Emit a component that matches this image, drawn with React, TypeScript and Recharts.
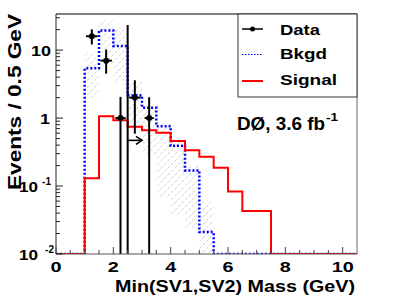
import React from "react";
import {
    ComposedChart,
    Line,
    Area,
    Scatter,
    ErrorBar,
    XAxis,
    YAxis,
    ReferenceLine,
} from "recharts";

// bin edges, 0.5 GeV wide
const binEdges = [0, 0.5, 1, 1.5, 2, 2.5, 3, 3.5, 4, 4.5, 5, 5.5, 6, 6.5, 7, 7.5, 8, 8.5, 9, 9.5, 10, 10.5];
const signalVals = [0.01, 0.01, 0.13, 1.06, 0.93, 0.745, 0.66, 0.61, 0.46, 0.335, 0.27, 0.186, 0.083, 0.043, 0.043, 0.01, 0.01, 0.01, 0.01, 0.01, 0.01];
const bkgdVals = [0.01, 0.01, 5.4, 19.5, 11.5, 2.16, 1.42, 0.76, 0.39, 0.17, 0.021, 0.01, 0.01, 0.01, 0.01, 0.01, 0.01, 0.01, 0.01, 0.01, 0.01];
const bandLow = [0.01, 0.01, 2.0, 6.0, 3.4, 0.79, 0.29, 0.067, 0.037, 0.024, 0.01, 0.01, 0.01, 0.01, 0.01, 0.01, 0.01, 0.01, 0.01, 0.01, 0.01];
const bandHigh = [0.01, 0.01, 9.4, 27.6, 20.8, 3.4, 1.55, 0.88, 0.45, 0.2, 0.059, 0.01, 0.01, 0.01, 0.01, 0.01, 0.01, 0.01, 0.01, 0.01, 0.01];

// data points
const dataX = [1.25, 1.75, 2.25, 2.75, 3.25];
const dataY = [16, 7, 1, 2, 1];
const dataLo = [12.1, 4.5, 0.01, 0.59, 0.01];
const dataHi = [20.2, 10.2, 2.05, 3.6, 2.03];
const dataXErr = [0.2, 0.2, 0.18, 0.2, 0.16];

// the tall line and the arrow near 2.5 GeV
const spikeX = 2.5;
const spikeTop = 23.4;
const arrowFrom = 2.5;
const arrowTo = 3.0;
const arrowY = 0.47;

const xTicks = [0, 0.5, 1, 1.5, 2, 2.5, 3, 3.5, 4, 4.5, 5, 5.5, 6, 6.5, 7, 7.5, 8, 8.5, 9, 9.5, 10];
const yTicks = [
    0.01, 0.02, 0.03, 0.04, 0.05, 0.06, 0.07, 0.08, 0.09,
    0.1, 0.2, 0.3, 0.4, 0.5, 0.6, 0.7, 0.8, 0.9,
    1, 2, 3, 4, 5, 6, 7, 8, 9,
    10, 20, 30,
];

const hist = binEdges.map((x, i) => {
    const b = Math.min(i, signalVals.length - 1);
    return { x, signal: signalVals[b], bkgd: bkgdVals[b], band: [bandLow[b], bandHigh[b]] };
});

const points = dataX.map((x, i) => ({
    x,
    y: dataY[i],
    ex: dataXErr[i],
    ey: [dataY[i] - dataLo[i], dataHi[i] - dataY[i]],
}));

const FONT = "'Liberation Sans', Arial, Helvetica, sans-serif";

function XTick(props: any) {
    const { x, y, payload } = props;
    const v = payload.value;
    const major = v % 2 === 0;
    const label = String(v);
    return (
        <g>
            <line x1={x} y1={y} x2={x} y2={y - (major ? 7 : 4)} stroke="#444" strokeWidth={1} />
            {major && (
                <text x={x} y={y + 18} textAnchor="middle" fontFamily={FONT} fontWeight="bold" fontSize={15}
                    textLength={label.length * 11} lengthAdjust="spacingAndGlyphs" fill="#000">
                    {label}
                </text>
            )}
        </g>
    );
}

function YTick(props: any) {
    const { x, y, payload } = props;
    const v = payload.value;
    const major = v === 0.01 || v === 0.1 || v === 1 || v === 10;
    const txt = { fontFamily: FONT, fontWeight: "bold", fill: "#000" } as any;
    let label = null;
    if (v === 10) {
        label = <text x={x - 5} y={y + 6} textAnchor="end" fontSize={15} textLength={20} lengthAdjust="spacingAndGlyphs" {...txt}>10</text>;
    } else if (v === 1) {
        label = <text x={x - 6} y={y + 6} textAnchor="end" fontSize={15} textLength={10} lengthAdjust="spacingAndGlyphs" {...txt}>1</text>;
    } else if (v === 0.1 || v === 0.01) {
        label = (
            <g>
                <text x={x - 18} y={y + 6} textAnchor="end" fontSize={15} textLength={19} lengthAdjust="spacingAndGlyphs" {...txt}>10</text>
                <text x={x - (v === 0.1 ? 5 : 2)} y={y - 1} textAnchor="end" fontSize={10} {...txt}>{v === 0.1 ? "-1" : "-2"}</text>
            </g>
        );
    }
    return (
        <g>
            <line x1={x} y1={y} x2={x + (major ? 7 : 4)} y2={y} stroke="#222" strokeWidth={1} />
            {label}
        </g>
    );
}

const DataDot = (props: any) => <circle cx={props.cx} cy={props.cy} r={3} fill="#000" />;

export default function App() {
    const t = { fontFamily: FONT, fontWeight: "bold", fill: "#000" } as any;
    return (
        <div style={{ position: "absolute", left: 0, top: 0, width: 398, height: 304, background: "#fff" }}>
            <svg width={0} height={0} style={{ position: "absolute" }}>
                <defs>
                    <pattern id="hatch" patternUnits="userSpaceOnUse" width={7} height={7}>
                        <path d="M0,7 L7,0" stroke="#c4c4d4" strokeWidth={0.8} strokeDasharray="3 1.5" />
                    </pattern>
                    <marker id="arrowHead" markerUnits="userSpaceOnUse" markerWidth={10} markerHeight={10} refX={8} refY={5} orient="auto">
                        <path d="M2,1 L8,5 L2,9" fill="none" stroke="#000" strokeWidth={1.6} />
                    </marker>
                </defs>
            </svg>
            <ComposedChart width={398} height={304} margin={{ top: 14, right: 41, bottom: 0, left: 0 }}>
                <XAxis dataKey="x" type="number" domain={[0, 10.5]} ticks={xTicks} interval={0}
                    tickSize={0} tickMargin={0} tick={<XTick />} height={50} stroke="#555" allowDataOverflow />
                <YAxis scale="log" type="number" domain={[0.01, 34]} ticks={yTicks} interval={0}
                    tickSize={0} tickMargin={0} tick={<YTick />} width={56} stroke="#222" allowDataOverflow />
                <Area data={hist} dataKey="band" type="stepAfter" fill="url(#hatch)" fillOpacity={1}
                    stroke="none" isAnimationActive={false} />
                <Line data={hist} dataKey="bkgd" type="stepAfter" stroke="#0000ff" strokeWidth={2.5}
                    strokeDasharray="2 2" dot={false} isAnimationActive={false} />
                <Line data={hist} dataKey="signal" type="stepAfter" stroke="#ff0000" strokeWidth={2}
                    dot={false} isAnimationActive={false} />
                <ReferenceLine segment={[{ x: spikeX, y: 0.01 }, { x: spikeX, y: spikeTop }]} stroke="#000" strokeWidth={2} />
                <ReferenceLine segment={[{ x: arrowFrom, y: arrowY }, { x: arrowTo, y: arrowY }]}
                    shape={(p: any) => (
                        <line x1={p.x1} y1={p.y1} x2={p.x2} y2={p.y2} stroke="#000" strokeWidth={1.6} markerEnd="url(#arrowHead)" />
                    )} />
                <Scatter data={points} dataKey="y" shape={DataDot} isAnimationActive={false}>
                    <ErrorBar dataKey="ex" direction="x" width={0} stroke="#000" strokeWidth={2} />
                    <ErrorBar dataKey="ey" direction="y" width={0} stroke="#000" strokeWidth={2} />
                </Scatter>
            </ComposedChart>
            <svg width={398} height={304} style={{ position: "absolute", left: 0, top: 0, pointerEvents: "none" }}>
                {/* frame top / right */}
                <line x1={56} y1={14} x2={357} y2={14} stroke="#000" strokeWidth={1} />
                <line x1={357} y1={14} x2={357} y2={254} stroke="#666" strokeWidth={1} />
                {/* legend */}
                <rect x={238} y={14} width={119} height={83} fill="#fff" stroke="#333" strokeWidth={1} />
                <line x1={242} y1={29} x2={263} y2={29} stroke="#000" strokeWidth={1.5} />
                <circle cx={252.5} cy={29} r={2.5} fill="#000" />
                <line x1={242} y1={54.5} x2={263} y2={54.5} stroke="#0000ff" strokeWidth={1.2} strokeDasharray="1.5 1.5" />
                <line x1={242} y1={81} x2={263} y2={81} stroke="#ff0000" strokeWidth={2} />
                <text x={280} y={35} fontSize={15} textLength={40} lengthAdjust="spacingAndGlyphs" {...t}>Data</text>
                <text x={280} y={59} fontSize={15} textLength={47} lengthAdjust="spacingAndGlyphs" {...t}>Bkgd</text>
                <text x={280} y={85} fontSize={15} textLength={57} lengthAdjust="spacingAndGlyphs" {...t}>Signal</text>
                {/* experiment label */}
                <text x={237} y={130} fontSize={18} textLength={88} lengthAdjust="spacingAndGlyphs" {...t}>DØ, 3.6 fb</text>
                <text x={326} y={121} fontSize={11} textLength={12} lengthAdjust="spacingAndGlyphs" {...t}>-1</text>
                {/* axis titles */}
                <text x={115} y={292} fontSize={17} textLength={240} lengthAdjust="spacingAndGlyphs" {...t}>Min(SV1,SV2) Mass (GeV)</text>
                <text x={0} y={0} transform="translate(21,190) rotate(-90)" fontSize={18} textLength={176} lengthAdjust="spacingAndGlyphs" {...t}>Events / 0.5 GeV</text>
            </svg>
        </div>
    );
}
